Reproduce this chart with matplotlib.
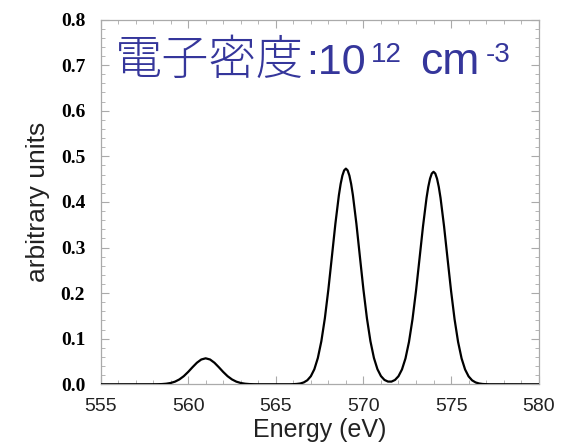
import matplotlib
matplotlib.use('Agg')
import matplotlib.pyplot as plt
from matplotlib.ticker import MultipleLocator

# スペクトル
energy = [555.0,
          558.0, 558.25, 558.5, 558.75, 559.0, 559.25, 559.5, 559.75,
          560.0, 560.25, 560.5, 560.75, 561.0, 561.25, 561.5, 561.75,
          562.0, 562.25, 562.5, 562.75, 563.0, 563.25, 563.5, 563.75, 564.0,
          565.8, 566.0, 566.2, 566.4, 566.6, 566.8, 567.0, 567.2, 567.4,
          567.6, 567.8, 568.0, 568.2, 568.4, 568.6, 568.7, 568.8, 568.9,
          569.0, 569.1, 569.2, 569.3, 569.4, 569.6, 569.8, 570.0, 570.2,
          570.4, 570.6, 570.8, 571.0, 571.2, 571.4, 571.6, 571.8, 572.0,
          572.2, 572.4, 572.6, 572.8, 573.0, 573.2, 573.4, 573.6, 573.7,
          573.8, 573.9, 574.0, 574.1, 574.2, 574.3, 574.4, 574.6, 574.8,
          575.0, 575.2, 575.4, 575.6, 575.8, 576.0, 576.2, 576.4, 576.6,
          576.8, 577.0, 577.2,
          580.0]
intensity = [0.0,
             0.0001, 0.0002, 0.0005, 0.0013, 0.0029, 0.0058, 0.0107, 0.0178,
             0.0271, 0.0375, 0.0473, 0.0544, 0.0570, 0.0544, 0.0473, 0.0375,
             0.0271, 0.0178, 0.0107, 0.0058, 0.0029, 0.0013, 0.0005, 0.0002, 0.0001,
             0.0001, 0.0003, 0.0008, 0.0018, 0.0042, 0.0089, 0.0177, 0.0330, 0.0577,
             0.0945, 0.1448, 0.2079, 0.2795, 0.3519, 0.4147, 0.4393, 0.4577, 0.4691,
             0.4730, 0.4691, 0.4577, 0.4393, 0.4147, 0.3519, 0.2795, 0.2079, 0.1448,
             0.0945, 0.0577, 0.0331, 0.0180, 0.0096, 0.0060, 0.0059, 0.0095, 0.0177,
             0.0326, 0.0568, 0.0931, 0.1427, 0.2049, 0.2754, 0.3466, 0.4086, 0.4328,
             0.4509, 0.4622, 0.4660, 0.4622, 0.4509, 0.4328, 0.4086, 0.3466, 0.2754,
             0.2049, 0.1427, 0.0931, 0.0568, 0.0325, 0.0174, 0.0087, 0.0041, 0.0018,
             0.0007, 0.0003, 0.0001,
             0.0]

x_ticks = [555, 560, 565, 570, 575, 580]
y_ticks = [0.0, 0.1, 0.2, 0.3, 0.4, 0.5, 0.6, 0.7, 0.8]
y_ticklabels = ['0.0', '0.1', '0.2', '0.3', '0.4', '0.5', '0.6', '0.7', '0.8']

BLUE = '#35369b'
GRAY = '#aaaaaa'

fig = plt.figure(figsize=(5.69, 4.47), dpi=100)
ax = fig.add_axes([100.5 / 569, 1 - 384.3 / 447, 438.2 / 569, 364.8 / 447])

ax.plot(energy, intensity, color='black', lw=1.6, solid_joinstyle='round', zorder=3)

ax.set_xlim(555, 580)
ax.set_ylim(0, 0.8)
ax.set_xticks(x_ticks)
ax.set_yticks(y_ticks)
ax.set_yticklabels(y_ticklabels, family='Liberation Serif', fontweight='bold',
                   fontsize=14)
for lab in ax.get_xticklabels():
    lab.set_family('Liberation Sans')
    lab.set_fontsize(14)
    lab.set_color('#222222')
ax.xaxis.set_minor_locator(MultipleLocator(1))
ax.yaxis.set_minor_locator(MultipleLocator(0.02))
ax.tick_params(which='both', direction='in', top=True, right=True, color=GRAY)
ax.tick_params(which='major', length=6, width=0.8)
ax.tick_params(which='minor', length=3, width=0.6)
ax.tick_params(axis='x', pad=10)
ax.tick_params(axis='y', pad=11)
for s in ax.spines.values():
    s.set_color(GRAY)
    s.set_linewidth(0.9)

ax.set_xlabel('Energy (eV)', family='Liberation Sans', fontsize=18,
              color='#222222', labelpad=2)
ax.set_ylabel('arbitrary units', family='Liberation Sans', fontsize=19,
              color='#222222', labelpad=8)

# タイトル文字列（上付き付き）
base_y = 0.8506
sup_y = 0.8835
ax.text(0.034, base_y, '電子密度', transform=ax.transAxes, ha='left',
        va='baseline', fontsize=34, color=BLUE, fontweight='light',
        family=['Noto Sans CJK JP', 'DejaVu Sans'])
ax.text(0.470, base_y, ':10', transform=ax.transAxes, ha='left',
        va='baseline', fontsize=31, color=BLUE, family='Liberation Sans')
ax.text(0.617, sup_y, '12', transform=ax.transAxes, ha='left',
        va='baseline', fontsize=20, color=BLUE, family='Liberation Sans')
ax.text(0.729, base_y, 'cm', transform=ax.transAxes, ha='left',
        va='baseline', fontsize=32, color=BLUE, family='Liberation Sans')
ax.text(0.880, sup_y, '-3', transform=ax.transAxes, ha='left',
        va='baseline', fontsize=20, color=BLUE, family='Liberation Sans')

fig.savefig('out.png', dpi=100)
